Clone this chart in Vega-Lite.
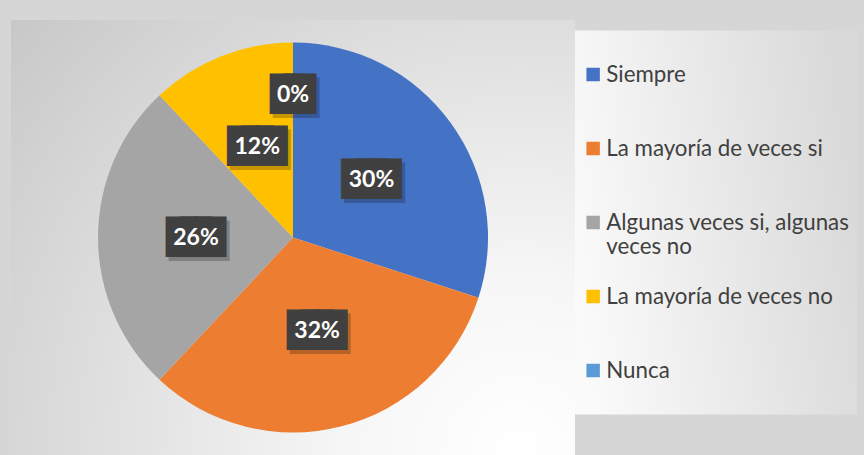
{
  "$schema": "https://vega.github.io/schema/vega-lite/v6.json",
  "width": 564,
  "height": 435,
  "autosize": {"type": "none"},
  "padding": {"left": 11, "top": 20, "right": 289, "bottom": 0},
  "background": "#d6d6d6",
  "config": {"view": {"stroke": null}},
  "datasets": {
    "respuestas": [
      {"respuesta": "Siempre", "orden": 1, "porcentaje": 0.30},
      {"respuesta": "La mayoría de veces si", "orden": 2, "porcentaje": 0.32},
      {"respuesta": "Algunas veces si, algunas veces no", "orden": 3, "porcentaje": 0.26},
      {"respuesta": "La mayoría de veces no", "orden": 4, "porcentaje": 0.12},
      {"respuesta": "Nunca", "orden": 5, "porcentaje": 0.0}
    ]
  },
  "data": {"name": "respuestas"},
  "transform": [
    {"calculate": "format(datum.porcentaje, '.0%')", "as": "etiqueta"},
    {"calculate": "pad('', length(datum.etiqueta), '█')", "as": "caja"}
  ],
  "layer": [
    {
      "data": {"values": [{"fondo": "área del gráfico"}]},
      "mark": {
        "type": "rect",
        "color": {
          "gradient": "radial",
          "x1": 0.9, "y1": 0.88, "r1": 0,
          "x2": 0.9, "y2": 0.88, "r2": 1.25,
          "stops": [
            {"offset": 0, "color": "#ffffff"},
            {"offset": 0.25, "color": "#f6f6f6"},
            {"offset": 1, "color": "#c4c4c4"}
          ]
        }
      },
      "encoding": {}
    },
    {
      "mark": {"type": "arc", "outerRadius": 195, "strokeWidth": 0},
      "encoding": {
        "theta": {"field": "porcentaje", "type": "quantitative", "stack": true},
        "order": {"field": "orden", "type": "quantitative"},
        "color": {
          "field": "respuesta",
          "type": "nominal",
          "scale": {
            "domain": ["Siempre", "La mayoría de veces si", "Algunas veces si, algunas veces no", "La mayoría de veces no", "Nunca"],
            "range": ["#4472C4", "#ED7D31", "#A5A5A5", "#FFC000", "#5B9BD5"]
          },
          "legend": {
            "title": null,
            "orient": "none",
            "legendX": 564,
            "legendY": 10.5,
            "padding": 7,
            "fillColor": {"value": {
              "gradient": "linear",
              "x1": 0, "y1": 0.6, "x2": 1, "y2": 0.4,
              "stops": [
                {"offset": 0, "color": "#fafafa"},
                {"offset": 1, "color": "#d9d9d9"}
              ]
            }},
            "symbolType": "square",
            "symbolSize": 180,
            "symbolStrokeWidth": 0,
            "labelFont": "Lato",
            "labelFontSize": 22.3,
            "labelColor": "#404040",
            "labelLimit": 300,
            "labelOffset": 2,
            "clipHeight": 74,
            "rowPadding": 0,
            "labelExpr": "datum.label == 'Algunas veces si, algunas veces no' ? ['Algunas veces si, algunas', 'veces no'] : datum.label"
          }
        }
      }
    },
    {
      "mark": {
        "type": "text",
        "radius": {"expr": "datum.porcentaje == 0 ? 143 : 97"},
        "font": "DejaVu Sans",
        "fontSize": 18,
        "dx": 3,
        "dy": 4,
        "color": "#000000",
        "stroke": "#000000",
        "strokeWidth": 19,
        "strokeJoin": "miter",
        "opacity": 0.22
      },
      "encoding": {
        "theta": {"field": "porcentaje", "type": "quantitative", "stack": true},
        "order": {"field": "orden", "type": "quantitative"},
        "text": {"field": "caja", "type": "nominal"}
      }
    },
    {
      "mark": {
        "type": "text",
        "radius": {"expr": "datum.porcentaje == 0 ? 143 : 97"},
        "font": "DejaVu Sans",
        "fontSize": 18,
        "color": "#404040",
        "stroke": "#404040",
        "strokeWidth": 19,
        "strokeJoin": "miter"
      },
      "encoding": {
        "theta": {"field": "porcentaje", "type": "quantitative", "stack": true},
        "order": {"field": "orden", "type": "quantitative"},
        "text": {"field": "caja", "type": "nominal"}
      }
    },
    {
      "mark": {
        "type": "text",
        "radius": {"expr": "datum.porcentaje == 0 ? 143 : 97"},
        "font": "Lato",
        "fontSize": 23,
        "fontWeight": "bold",
        "color": "#ffffff"
      },
      "encoding": {
        "theta": {"field": "porcentaje", "type": "quantitative", "stack": true},
        "order": {"field": "orden", "type": "quantitative"},
        "text": {"field": "etiqueta", "type": "nominal"}
      }
    }
  ]
}
